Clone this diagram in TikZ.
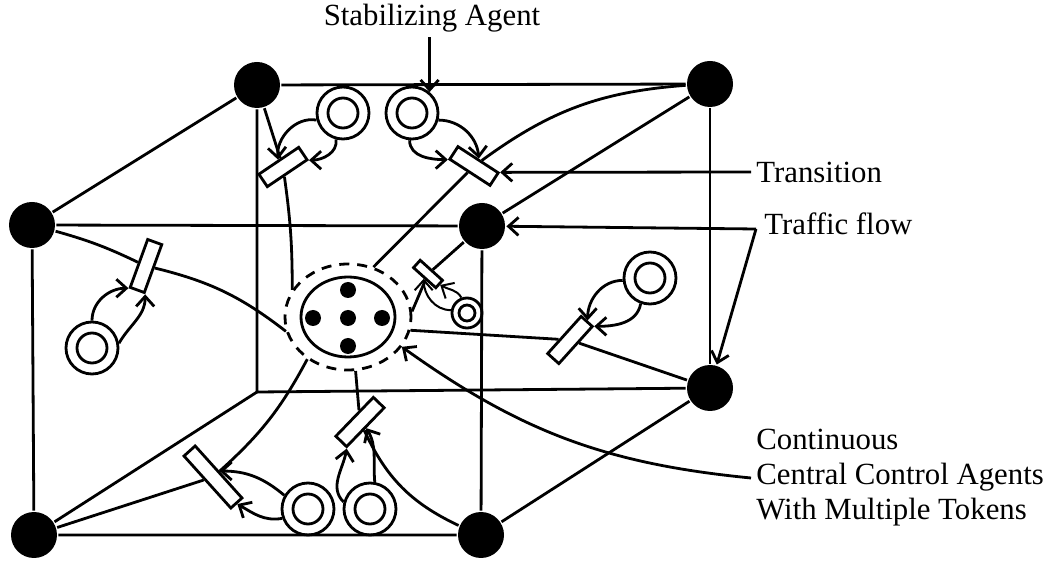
\documentclass[tikz,border=0pt]{standalone}
\usepackage{fontspec}
\setmainfont{Liberation Serif}
\usetikzlibrary{arrows.meta, shapes.geometric}

\begin{document}
\begin{tikzpicture}[x=0.5pt, y=0.5pt, line width=1.4pt,
    junction/.style={circle, fill=black, inner sep=0pt, minimum size=23pt},
    place/.style={circle, draw, fill=white, inner sep=0pt, minimum size=26pt,
      path picture={\draw (path picture bounding box.center) circle (7.5pt);}},
    small place/.style={circle, draw, fill=white, inner sep=0pt, minimum size=15pt,
      path picture={\draw (path picture bounding box.center) circle (4pt);}},
    transition/.style={draw, fill=white, inner sep=0pt, minimum width=24pt, minimum height=7.5pt},
    token/.style={circle, fill=black, inner sep=0pt, minimum size=8pt},
    flowarrow/.style={-{Straight Barb[length=5pt, width=9pt]}},
    lbl/.style={inner sep=2pt, font=\fontsize{15.4}{17.5}\selectfont}]
  \useasboundingbox (0,0) rectangle (1046,-561);

  % junctions of the two faces
  \node[junction] (1) at (257,-85) {};
  \node[junction] (2) at (710,-84) {};
  \node[junction] (3) at (32,-225) {};
  \node[junction] (4) at (482,-226) {};
  \node[junction] (5) at (710,-388) {};
  \node[junction] (6) at (34,-535) {};
  \node[junction] (7) at (481,-535) {};
  \coordinate (bk) at (257,-392);

  % central control agent
  \node[ellipse, draw, dash pattern=on 5pt off 4pt, minimum width=63pt, minimum height=53pt] (ring) at (348,-317) {};
  \node[ellipse, draw, minimum width=47pt, minimum height=40pt] (cca) at (348,-317) {};
  \node[token] (k0) at (348,-318) {};
  \node[token] (k1) at (348,-290) {};
  \node[token] (k2) at (348,-346) {};
  \node[token] (k3) at (313,-318) {};
  \node[token] (k4) at (382,-318) {};

  % stabilizing agents
  \node[transition, rotate=34] (t1) at (283,-167) {};
  \node[place] (p1) at (343,-113) {};
  \node[transition, rotate=-33] (t2) at (474,-166) {};
  \node[place] (p2) at (412,-113) {};
  \node[transition, rotate=-42, minimum width=15pt, minimum height=5pt] (t3) at (428,-274) {};
  \node[small place] (p3) at (467,-313) {};
  \node[transition, rotate=48, minimum width=25pt] (t4) at (570,-340) {};
  \node[place] (p4) at (650,-278) {};
  \node[transition, rotate=70, minimum width=25.5pt] (t5) at (146,-266) {};
  \node[place] (p5) at (92,-348) {};
  \node[transition, rotate=-48, minimum width=35pt] (t6) at (213,-477) {};
  \node[place] (p6) at (308,-509) {};
  \node[transition, rotate=46, minimum width=27pt] (t7) at (360,-422) {};
  \node[place] (p7) at (370,-509) {};

  % labels
  \node[lbl] (stab) at (432,-18) {Stabilizing Agent};
  \node[lbl, anchor=west] (trans) at (751,-172) {Transition};
  \node[lbl, anchor=west] (traffic) at (759,-224) {Traffic flow};
  \node[lbl, anchor=west, align=left] (cont) at (751,-478) {Continuous\\Central Control Agents\\With Multiple Tokens};
  \coordinate (tf) at (756,-229);

  % edges
  \draw (1) -- (2);
  \draw (1) -- (bk) -- (5);
  \draw (2) -- (5);
  \draw (3) -- (4) -- (7) -- (6) -- (3);
  \draw (1) -- (3);
  \draw (2) -- (4);
  \draw (5) -- (7);
  \draw (bk) -- (6);

  % roads to the centre
  \draw (1) -- (t1);
  \draw (t1) to[bend left=4] (ring.154);
  \draw (2) to[bend right=16] (t2);
  \draw (t2) -- (ring.63);
  \draw (4) -- (t3);
  \draw (t3) -- (ring.5);
  \draw (5) -- (t4);
  \draw (t4) -- (ring.348);
  \draw (3) to[bend left=5] (t5);
  \draw (t5) to[bend left=12] (ring.193);
  \draw (6) -- (t6);
  \draw (t6) to[bend right=10] (ring.226);
  \draw (ring.278) -- (t7);
  \draw (t7) to[bend right=20] (7);

  % arcs of the agents
  \draw[flowarrow] (p1.195) to[out=170, in=95] (t1.north);
  \draw[flowarrow] (p1.255) to[out=-80, in=0] (t1.south east);
  \draw[flowarrow] (p2.345) to[out=0, in=95] (t2.north);
  \draw[flowarrow] (p2.265) to[out=-90, in=180] (t2.south west);
  \draw[flowarrow, line width=1pt] (p3.110) to[out=120, in=-30] (t3.east);
  \draw[flowarrow, line width=1pt] (p3.170) to[out=180, in=-90] (t3.south);
  \draw[flowarrow] (p4.185) to[out=180, in=90] (t4.east);
  \draw[flowarrow] (p4.250) to[out=-100, in=0] (t4.south east);
  \draw[flowarrow] (p5.north) to[out=90, in=180] (t5.north west);
  \draw[flowarrow] (p5.10) to[out=60, in=-90] (t5.south west);
  \draw[flowarrow] (p6.150) to[out=140, in=0] (t6.north);
  \draw[flowarrow] (p6.200) to[out=190, in=-30] (t6.east);
  \draw[flowarrow] (p7.165) to[out=135, in=-100] (t7.south west);
  \draw[flowarrow] (p7.80) to[out=95, in=-60] (t7.south);

  % label pointers
  \draw[flowarrow] (stab.south -| p2.50) -- (p2.50);
  \draw[flowarrow] (trans.west) -- (t2.north east);
  \draw[flowarrow] (tf) -- (4);
  \draw[flowarrow] (tf) -- (5);
  \draw[flowarrow] (cont.west) to[bend left=15] (ring.331);
\end{tikzpicture}
\end{document}
